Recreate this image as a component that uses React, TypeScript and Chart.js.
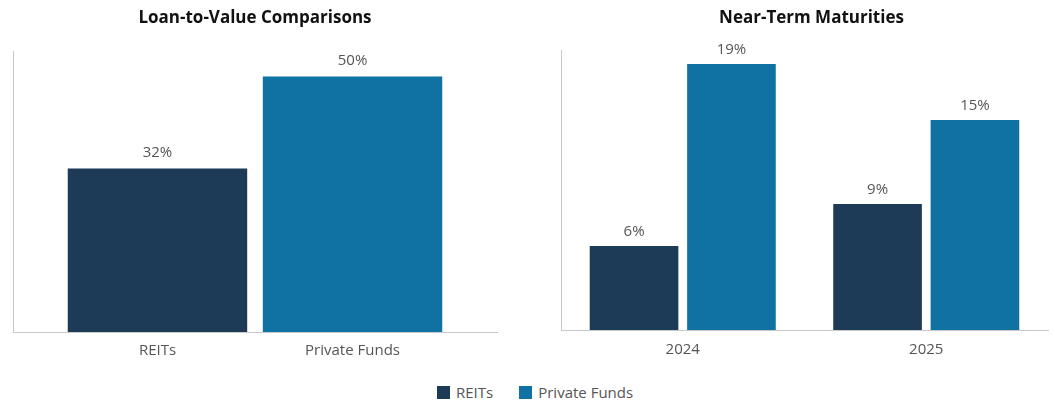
import React, { useEffect, useRef } from 'react';
import { Chart, registerables } from 'chart.js';

Chart.register(...registerables);

const seriesNames = ['REITs', 'Private Funds'];
const seriesColors = ['#1d3b56', '#0f72a3'];

const ltvTitle = 'Loan-to-Value Comparisons';
const ltvCategories = ['REITs', 'Private Funds'];
const ltvReits = [32];
const ltvPrivate = [50];
const ltvMax = 55;

const maturityTitle = 'Near-Term Maturities';
const maturityCategories = ['2024', '2025'];
const maturityReits = [6, 9];
const maturityPrivate = [19, 15];
const maturityMax = 20;

const FONT = '"Open Sans", "Noto Sans", sans-serif';
const TEXT = '#555555';
const AXIS = '#c8c8c8';

function makePlugins(title: string, titleX: number, labelGap: number, barLabels: string[] | null) {
  return [
    {
      id: 'customText',
      afterDatasetsDraw(chart: any) {
        const ctx = chart.ctx;
        ctx.save();
        ctx.font = `15px ${FONT}`;
        ctx.fillStyle = TEXT;
        ctx.textAlign = 'center';
        ctx.textBaseline = 'alphabetic';
        chart.data.datasets.forEach((ds: any, di: number) => {
          const meta = chart.getDatasetMeta(di);
          meta.data.forEach((el: any, i: number) => {
            const v = ds.data[i];
            if (v == null) return;
            ctx.fillText(`${v}%`, el.x, el.y - labelGap);
          });
        });
        if (barLabels) {
          ctx.textBaseline = 'middle';
          chart.data.datasets.forEach((_ds: any, di: number) => {
            const el = chart.getDatasetMeta(di).data[0];
            ctx.fillText(barLabels[di], el.x, chart.chartArea.bottom + 19);
          });
        }
        ctx.font = `bold 17px ${FONT}`;
        ctx.fillStyle = '#111111';
        ctx.textBaseline = 'middle';
        ctx.fillText(title, titleX, 18);
        ctx.restore();
      },
    },
  ];
}

function LtvChart() {
  const ref = useRef<HTMLCanvasElement>(null);
  useEffect(() => {
    const chart = new Chart(ref.current!, {
      type: 'bar',
      data: {
        labels: [''],
        datasets: [
          { label: seriesNames[0], data: ltvReits, backgroundColor: seriesColors[0], barPercentage: 0.92, categoryPercentage: 0.806 },
          { label: seriesNames[1], data: ltvPrivate, backgroundColor: seriesColors[1], barPercentage: 0.92, categoryPercentage: 0.806 },
        ],
      },
      options: {
        animation: false,
        responsive: false,
        maintainAspectRatio: false,
        layout: { padding: { left: 13, right: 30, top: 51, bottom: 38 } },
        plugins: { legend: { display: false }, title: { display: false }, tooltip: { enabled: false } },
        scales: {
          x: {
            ticks: { display: false },
            grid: { display: false, drawTicks: false },
            border: { display: true, color: AXIS, width: 1 },
          },
          y: {
            min: 0,
            max: ltvMax,
            ticks: { display: false },
            grid: { display: false, drawTicks: false },
            border: { display: true, color: AXIS, width: 1 },
          },
        },
      },
      plugins: makePlugins(ltvTitle, 255, 12, ltvCategories) as any,
    });
    return () => chart.destroy();
  }, []);
  return <canvas ref={ref} width={527} height={370} style={{ position: 'absolute', left: 0, top: 0, width: 527, height: 370 }} />;
}

function MaturityChart() {
  const ref = useRef<HTMLCanvasElement>(null);
  useEffect(() => {
    const chart = new Chart(ref.current!, {
      type: 'bar',
      data: {
        labels: maturityCategories,
        datasets: [
          { label: seriesNames[0], data: maturityReits, backgroundColor: seriesColors[0], barPercentage: 0.91, categoryPercentage: 0.8 },
          { label: seriesNames[1], data: maturityPrivate, backgroundColor: seriesColors[1], barPercentage: 0.91, categoryPercentage: 0.8 },
        ],
      },
      options: {
        animation: false,
        responsive: false,
        maintainAspectRatio: false,
        layout: { padding: { left: 34, right: 7, top: 50, bottom: 0 } },
        plugins: { legend: { display: false }, title: { display: false }, tooltip: { enabled: false } },
        scales: {
          x: {
            ticks: { display: true, color: TEXT, font: { family: FONT, size: 15 }, padding: 11 },
            grid: { display: false, drawTicks: false },
            border: { display: true, color: AXIS, width: 1 },
          },
          y: {
            min: 0,
            max: maturityMax,
            ticks: { display: false },
            grid: { display: false, drawTicks: false },
            border: { display: true, color: AXIS, width: 1 },
          },
        },
      },
      plugins: makePlugins(maturityTitle, 284.5, 10, null) as any,
    });
    return () => chart.destroy();
  }, []);
  return <canvas ref={ref} width={528} height={370} style={{ position: 'absolute', left: 527, top: 0, width: 528, height: 370 }} />;
}

export default function App() {
  return (
    <div style={{ position: 'fixed', left: 0, top: 0, width: 1055, height: 405, background: '#ffffff', overflow: 'hidden' }}>
      <LtvChart />
      <MaturityChart />
      <div
        style={{
          position: 'absolute',
          left: 437,
          top: 382,
          height: 20,
          display: 'flex',
          alignItems: 'center',
          fontFamily: FONT,
          fontSize: 15,
          color: TEXT,
        }}
      >
        {seriesNames.map((name, i) => (
          <div key={name} style={{ display: 'flex', alignItems: 'center', marginRight: i === 0 ? 26 : 0 }}>
            <span style={{ display: 'inline-block', width: 13, height: 13, background: seriesColors[i], marginRight: 6 }} />
            <span>{name}</span>
          </div>
        ))}
      </div>
    </div>
  );
}
